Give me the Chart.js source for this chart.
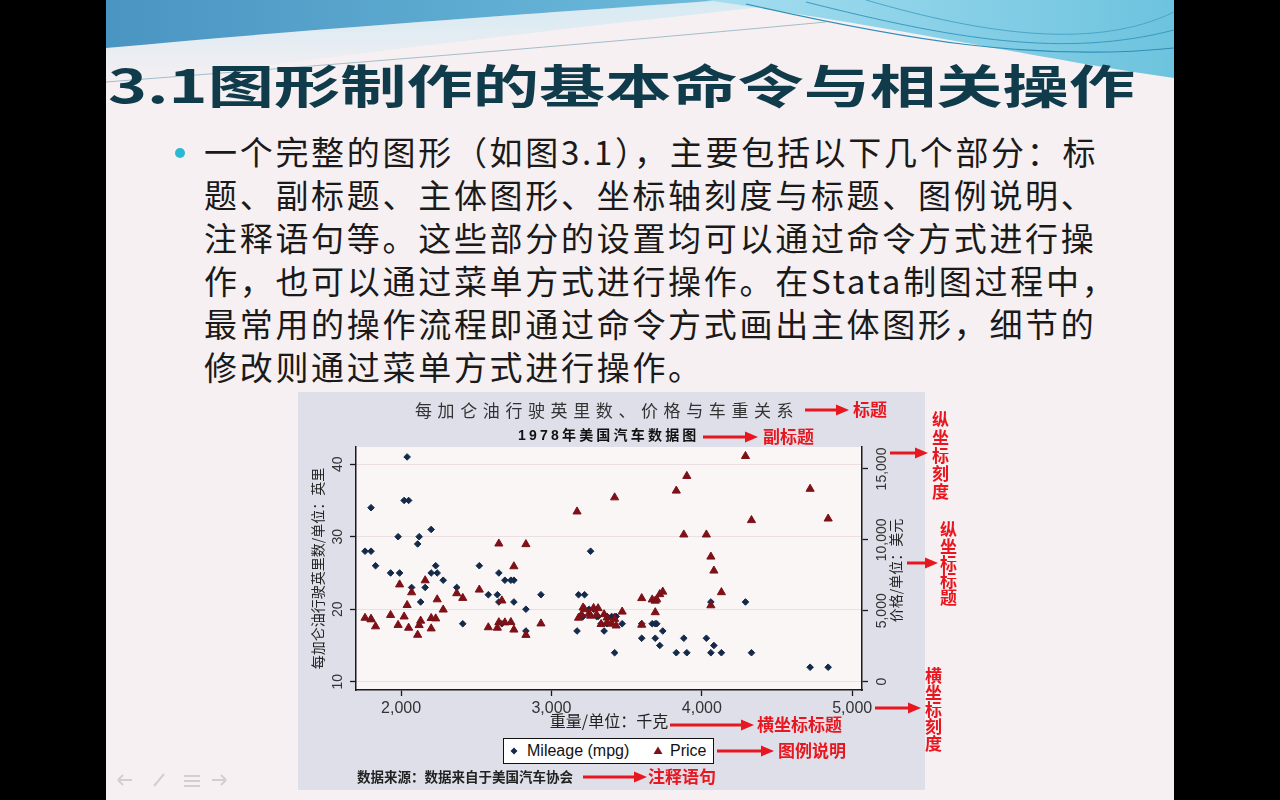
<!DOCTYPE html>
<html><head><meta charset="utf-8">
<script src="https://cdn.jsdelivr.net/npm/chart.js@4.4.1/dist/chart.umd.min.js"></script>
<style>
html,body{margin:0;padding:0;width:1280px;height:800px;overflow:hidden;background:#000;}
.abs{position:absolute;white-space:nowrap;}
#slide{position:absolute;left:106px;top:0;width:1068px;height:800px;background:#f7f0f2;overflow:hidden;}
#ttl{left:108px;top:57px;font:700 46px "Noto Sans CJK SC",sans-serif;line-height:52px;color:#0f3b4b;transform:scaleX(1.44);transform-origin:0 0;}
#body{left:204px;top:130px;font:400 33px "Noto Sans CJK SC",sans-serif;line-height:43px;letter-spacing:2.7px;color:#1a1a1a;}
#bullet{left:175px;top:148px;width:10px;height:10px;border-radius:50%;background:#2bb8d4;}
#graph{left:298px;top:392px;width:627px;height:398px;background:#dedfe9;}
#gtitle{left:415px;top:400px;font:400 17px "Noto Sans CJK SC",sans-serif;line-height:20px;letter-spacing:5.6px;color:#333;}
#gsub{left:518px;top:426px;font:700 14px "Liberation Sans","Noto Sans CJK SC",sans-serif;line-height:18px;letter-spacing:3.2px;color:#111;}
#note{left:357px;top:768px;font:700 13.5px "Noto Sans CJK SC",sans-serif;line-height:16px;color:#222;}
#legend{left:503px;top:738px;width:209px;height:24px;background:#fff;border:1px solid #111;}
.lt{position:absolute;top:3px;font:400 16px "Liberation Sans",Arial,sans-serif;line-height:18px;color:#111;white-space:nowrap;}
.red{font:700 17px "Noto Sans CJK SC",sans-serif;line-height:20px;color:#e8161e;}
.vred{font:700 17px "Noto Sans CJK SC",sans-serif;line-height:20px;width:20px;color:#e8161e;writing-mode:vertical-rl;text-orientation:upright;}
</style></head><body>
<div id="slide">
<svg width="1068" height="800" style="position:absolute;left:0;top:0">
  <defs>
    <linearGradient id="gL" x1="0" y1="0" x2="1" y2="0"><stop offset="0" stop-color="#4a94c2"/><stop offset="1" stop-color="#6cbcdc"/></linearGradient>
    <linearGradient id="gR" x1="0" y1="0" x2="1" y2="0"><stop offset="0" stop-color="#a6def0"/><stop offset="1" stop-color="#6dc3de"/></linearGradient>
    <linearGradient id="gP" x1="0" y1="0" x2="0" y2="1"><stop offset="0" stop-color="#cde8f2"/><stop offset="1" stop-color="#f7f0f2"/></linearGradient>
  </defs>
  <path d="M0,48 C250,25 480,10 620,0 L720,0 C520,22 260,50 0,88 Z" fill="url(#gP)" opacity="0.8"/>
  <path d="M0,0 L620,0 C480,10 250,25 0,48 Z" fill="url(#gL)"/>
  <path d="M600,0 L1068,0 L1068,78 C950,62 820,32 600,0 Z" fill="url(#gR)"/>
  <path d="M640,4 C800,40 930,62 1068,48" fill="none" stroke="#2f8fb8" stroke-width="1.2"/>
  <path d="M700,2 C850,40 960,58 1068,30" fill="none" stroke="#3a9ac0" stroke-width="1"/>
  <path d="M760,0 C880,35 990,50 1068,12" fill="none" stroke="#4aa6c8" stroke-width="1"/>
  <path d="M0,82 C180,68 420,50 720,22" fill="none" stroke="#7fa7b8" stroke-width="1" opacity="0.7"/>
  <g fill="none" stroke="#d2cfd2" stroke-width="2">
    <path d="M12,780 L26,780 M12,780 L17,775 M12,780 L17,785"/>
    <path d="M48,786 L58,774"/>
    <path d="M78,776 L94,776 M78,781 L94,781 M78,786 L94,786"/>
    <path d="M106,780 L120,780 M120,780 L115,775 M120,780 L115,785"/>
  </g>
</svg>
</div>
<div id="ttl" class="abs">3.1图形制作的基本命令与相关操作</div>
<div id="bullet" class="abs"></div>
<div id="body" class="abs">一个完整的图形（如图3.1），主要包括以下几个部分：标<br>题、副标题、主体图形、坐标轴刻度与标题、图例说明、<br>注释语句等。这些部分的设置均可以通过命令方式进行操<br>作，也可以通过菜单方式进行操作。在Stata制图过程中，<br>最常用的操作流程即通过命令方式画出主体图形，细节的<br>修改则通过菜单方式进行操作。</div>

<div id="graph" class="abs"><canvas id="c" width="627" height="398"></canvas></div>
<div id="gtitle" class="abs">每加仑油行驶英里数、价格与车重关系</div>
<div id="gsub" class="abs">1978年美国汽车数据图</div>
<div id="legend" class="abs">
  <svg width="209" height="24" style="position:absolute;left:0;top:0">
    <path d="M10,8.5 L13.5,12 L10,15.5 L6.5,12 Z" fill="#142a4a"/>
    <path d="M154,7.5 L158.5,15 L149.5,15 Z" fill="#7d1118"/>
  </svg>
  <span class="lt" style="left:23px">Mileage (mpg)</span>
  <span class="lt" style="left:166px">Price</span>
</div>
<div id="note" class="abs">数据来源：数据来自于美国汽车协会</div>

<svg width="1280" height="800" style="position:absolute;left:0;top:0;pointer-events:none">
  <g stroke="#e8161e" stroke-width="3" fill="#e8161e">
    <line x1="805" y1="410" x2="838" y2="410"/><path d="M849,410 L836,404.5 L836,415.5 Z" stroke="none"/>
    <line x1="703" y1="437" x2="747" y2="437"/><path d="M758,437 L745,431.5 L745,442.5 Z" stroke="none"/>
    <line x1="890" y1="453" x2="917" y2="453"/><path d="M928,453 L915,447.5 L915,458.5 Z" stroke="none"/>
    <line x1="907" y1="563" x2="927" y2="563"/><path d="M938,563 L925,557.5 L925,568.5 Z" stroke="none"/>
    <line x1="875" y1="708" x2="910" y2="708"/><path d="M921,708 L908,702.5 L908,713.5 Z" stroke="none"/>
    <line x1="670" y1="725" x2="743" y2="725"/><path d="M754,725 L741,719.5 L741,730.5 Z" stroke="none"/>
    <line x1="717" y1="751" x2="763" y2="751"/><path d="M774,751 L761,745.5 L761,756.5 Z" stroke="none"/>
    <line x1="583" y1="777" x2="636" y2="777"/><path d="M647,777 L634,771.5 L634,782.5 Z" stroke="none"/>
  </g>
</svg>
<div class="abs red" style="left:853px;top:399px">标题</div>
<div class="abs red" style="left:763px;top:426px">副标题</div>
<div class="abs red" style="left:757px;top:714px">横坐标标题</div>
<div class="abs red" style="left:778px;top:740px">图例说明</div>
<div class="abs red" style="left:648px;top:766px">注释语句</div>
<div class="abs vred" style="left:930px;top:411px;letter-spacing:1px">纵坐标刻度</div>
<div class="abs vred" style="left:938px;top:521px">纵坐标标题</div>
<div class="abs vred" style="left:923px;top:667px">横坐标刻度</div>

<script>
// ---- data (1978 automobile data) ----
const weights = [2930,3350,2640,3250,4080,3670,2230,3280,3880,3400,4330,3900,4290,2110,3690,3180,3220,2750,3430,2120,3600,3600,3740,1800,2650,4840,4720,3830,2580,4060,3720,3370,4130,2830,4060,3310,3300,3690,3370,2730,4030,3260,1800,2200,2520,3330,3700,3470,3210,3200,3420,2690,2830,2070,2650,2370,2020,2280,2750,2130,2240,1760,1980,3420,1830,2050,2410,2200,2670,2160,2040,1930,1990,3170];
const mpgValues = [22,17,22,20,15,18,26,20,16,19,14,14,21,29,16,22,22,24,19,30,18,16,17,28,21,12,12,14,22,14,15,18,14,20,21,19,19,18,19,24,16,28,34,25,26,18,18,18,19,19,19,24,17,23,25,23,35,24,21,21,25,28,30,14,26,35,18,31,18,23,41,25,25,17];
const prices = [4099,4749,3799,4816,7827,5788,4453,5189,10372,4082,11385,14500,15906,3299,5705,4504,5104,3667,3955,3984,4010,5886,6342,4389,4187,11497,13594,13466,3829,5379,6165,4516,6303,3291,8814,5172,4733,4890,4181,4195,10371,4647,4425,4482,6486,4060,5798,4934,5222,4723,4424,4172,9690,6295,9735,6229,4589,5079,8129,4296,5799,4499,3995,12990,3895,3798,5899,3748,5719,7140,5397,4697,6850,11995];
const seriesNames = ['Mileage (mpg)','Price'];
const xTickValues = [2000,3000,4000,5000];
const xTickLabels = ['2,000','3,000','4,000','5,000'];
const mpgTickValues = [10,20,30,40];
const mpgTickLabels = ['10','20','30','40'];
const priceTickValues = [0,5000,10000,15000];
const priceTickLabels = ['0','5,000','10,000','15,000'];
const xTitle = '重量/单位：千克';
const yTitle = '每加仑油行驶英里数/单位：英里';
const y2Title = '价格/单位：美元';

const NAVY = '#142a4a', MAROON = '#7d1118', AXIS = '#1a1a1a';
const LATIN = '"Liberation Sans", Arial, sans-serif';
const CJK = '"Noto Sans CJK SC", "Liberation Sans", sans-serif';

const plotBg = {
  id:'plotBg',
  beforeDraw(chart){
    const a = chart.chartArea, ctx = chart.ctx;
    ctx.save(); ctx.fillStyle = '#fbf6f6';
    ctx.fillRect(a.left, a.top, a.right - a.left, a.bottom - a.top);
    ctx.restore();
  }
};
const rotLabels = {
  id:'rotLabels',
  afterDraw(chart){
    const ctx = chart.ctx, y = chart.scales.y, y2 = chart.scales.y2;
    ctx.save();
    ctx.fillStyle = '#333'; ctx.textAlign = 'center'; ctx.textBaseline = 'middle';
    ctx.font = '14px ' + LATIN;
    mpgTickValues.forEach((v,i)=>{
      ctx.save(); ctx.translate(40, y.getPixelForValue(v)); ctx.rotate(-Math.PI/2);
      ctx.fillText(mpgTickLabels[i], 0, 0); ctx.restore();
    });
    priceTickValues.forEach((v,i)=>{
      ctx.save(); ctx.translate(584, y2.getPixelForValue(v)); ctx.rotate(-Math.PI/2);
      ctx.fillText(priceTickLabels[i], 0, 0); ctx.restore();
    });
    ctx.fillStyle = '#222'; ctx.font = '14px ' + CJK;
    ctx.save(); ctx.translate(598, (y2.top + y2.bottom)/2 + 2); ctx.rotate(-Math.PI/2);
    ctx.fillText(y2Title, 0, 0); ctx.restore();
    ctx.restore();
  }
};

const setTicks = vals => s => { s.ticks = vals.map(v => ({value:v})); };

new Chart(document.getElementById('c'), {
  type:'scatter',
  data:{datasets:[
    {label:seriesNames[0], data:weights.map((w,i)=>({x:w, y:mpgValues[i]})), yAxisID:'y',
     pointStyle:'rectRot', pointRadius:3.3, pointBackgroundColor:NAVY, pointBorderColor:NAVY, pointBorderWidth:1, order:2},
    {label:seriesNames[1], data:weights.map((w,i)=>({x:w, y:prices[i]})), yAxisID:'y2',
     pointStyle:'triangle', pointRadius:4.7, pointBackgroundColor:MAROON, pointBorderColor:MAROON, pointBorderWidth:1, order:1}
  ]},
  options:{
    responsive:false, animation:false, devicePixelRatio:1, events:[],
    layout:{padding:{top:55, left:0, right:0, bottom:0}},
    plugins:{legend:{display:false}, title:{display:false}, tooltip:{enabled:false}},
    scales:{
      x:{type:'linear', position:'bottom', min:1700, max:5065,
        afterBuildTicks:setTicks(xTickValues), afterFit:s=>{s.height=100;},
        ticks:{autoSkip:false, maxRotation:0, minRotation:0, padding:3, color:'#333', font:{family:LATIN, size:16},
          callback:(v)=>xTickLabels[xTickValues.indexOf(v)]},
        grid:{drawOnChartArea:false, drawTicks:true, tickLength:6, tickColor:AXIS, tickWidth:1.3},
        border:{display:true, color:AXIS, width:1.5},
        title:{display:true, text:xTitle, color:'#222', font:{family:CJK, size:16}, padding:{top:0, bottom:59}}},
      y:{type:'linear', position:'left', min:8.86, max:42.37,
        afterBuildTicks:setTicks(mpgTickValues), afterFit:s=>{s.width=58;},
        ticks:{color:'rgba(0,0,0,0)', font:{family:LATIN, size:14}},
        grid:{drawOnChartArea:true, color:'#ecdfe1', lineWidth:1, drawTicks:true, tickLength:6, tickColor:AXIS, tickWidth:1.3},
        border:{display:true, color:AXIS, width:1.5},
        title:{display:true, text:yTitle, color:'#222', font:{family:CJK, size:14}, padding:{top:11, bottom:0}}},
      y2:{type:'linear', position:'right', min:-585, max:16551,
        afterBuildTicks:setTicks(priceTickValues), afterFit:s=>{s.width=63;},
        ticks:{color:'rgba(0,0,0,0)', font:{family:LATIN, size:14}},
        grid:{drawOnChartArea:false, drawTicks:true, tickLength:6, tickColor:AXIS, tickWidth:1.3},
        border:{display:true, color:AXIS, width:1.5}}
    }
  },
  plugins:[plotBg, rotLabels]
});
</script>
</body></html>
